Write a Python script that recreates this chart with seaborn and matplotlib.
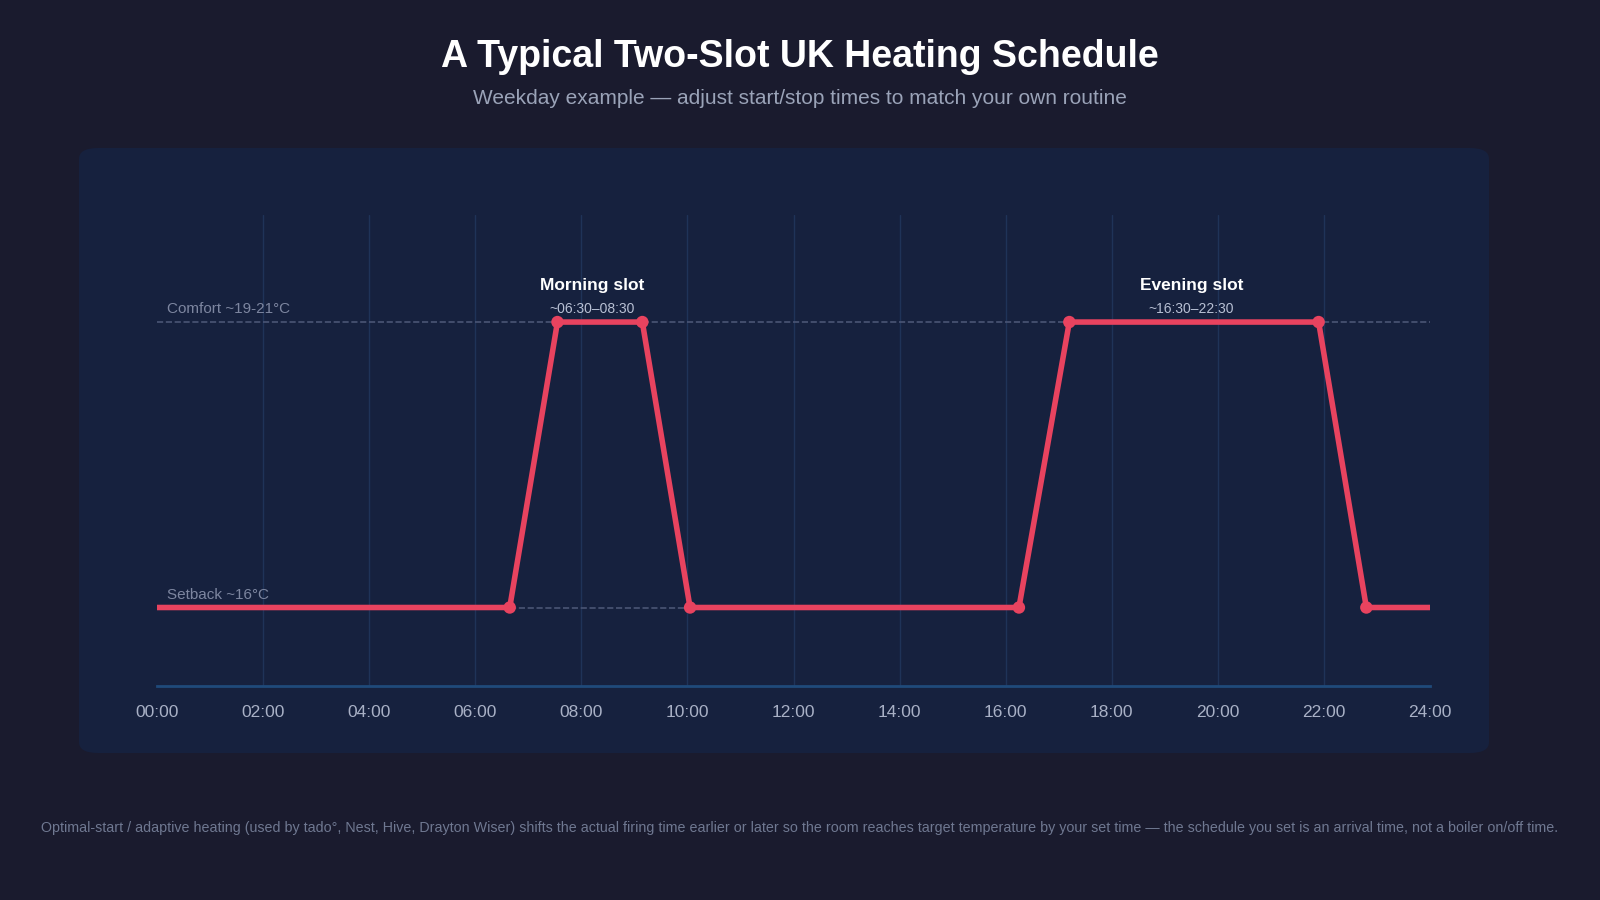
import matplotlib
matplotlib.use("Agg")
import matplotlib.pyplot as plt
from matplotlib.patches import FancyBboxPatch
import seaborn as sns
import pandas as pd

sns.set_theme(style="dark")
plt.rcParams['font.family'] = ['Liberation Sans', 'DejaVu Sans']

hours = [0, 6.65, 7.55, 9.15, 10.05, 16.25, 17.2, 21.9, 22.8, 24]
temps = [16, 16, 20, 20, 16, 16, 20, 20, 16, 16]
marker_idx = [1, 2, 3, 4, 5, 6, 7, 8]
tick_hours = list(range(0, 25, 2))
tick_labels = [f"{h:02d}:00" for h in tick_hours]
comfort, setback = 20, 16

BG = "#1a1b2e"
PANEL = "#16213e"
RED = "#e8435f"
GRID = "#1f3358"
MUTED = "#7d86a0"

fig = plt.figure(figsize=(16, 9), dpi=100, facecolor=BG)
fig.patches.append(FancyBboxPatch((79/1600, 1-753/900), 1410/1600, 605/900,
    boxstyle="round,pad=0,rounding_size=0.012", transform=fig.transFigure,
    facecolor=PANEL, edgecolor="none", zorder=-5))

ax = fig.add_axes([157/1600, 1-686/900, 1273/1600, 471/900])
ax.set_zorder(2)
ax.set_facecolor("none")
df = pd.DataFrame({"h": hours, "t": temps})
ax.axhline(comfort, color="#4a5575", ls="--", lw=1.2, zorder=1)
ax.plot([hours[1], hours[4]], [setback, setback], color="#4a5575", ls="--", lw=1.2, zorder=1)
sns.lineplot(data=df, x="h", y="t", color=RED, lw=4, ax=ax, zorder=3)
md = df.iloc[marker_idx]
sns.scatterplot(data=md, x="h", y="t", color=RED, s=80, edgecolor="none", ax=ax, zorder=4)

ax.set_xlim(0, 24)
ax.set_ylim(14.9, 21.5)
ax.set_xticks(tick_hours)
ax.set_xticklabels(tick_labels, color="#a9b1c6", fontsize=12.5)
ax.set_yticks([])
ax.set_xlabel(""); ax.set_ylabel("")
ax.tick_params(axis="x", length=0, pad=14)
for h in tick_hours[1:-1]:
    ax.axvline(h, color=GRID, lw=1, zorder=0)
for s in ["top", "right", "left"]:
    ax.spines[s].set_visible(False)
ax.spines["bottom"].set_color("#1f4a7a"); ax.spines["bottom"].set_linewidth(2)

ax.text(0.18, comfort + 0.12, "Comfort ~19-21°C", color=MUTED, fontsize=11)
ax.text(0.18, setback + 0.12, "Setback ~16°C", color=MUTED, fontsize=11)
ax.text(8.2, 20.45, "Morning slot", color="white", fontsize=12.5, fontweight="bold", ha="center")
ax.text(8.2, 20.12, "~06:30–08:30", color="#b8c0d4", fontsize=10, ha="center")
ax.text(19.5, 20.45, "Evening slot", color="white", fontsize=12.5, fontweight="bold", ha="center")
ax.text(19.5, 20.12, "~16:30–22:30", color="#b8c0d4", fontsize=10, ha="center")

fig.text(0.5, 1-57/900, "A Typical Two-Slot UK Heating Schedule", color="white",
         fontsize=27, fontweight="bold", ha="center", va="center")
fig.text(0.5, 1-99/900, "Weekday example — adjust start/stop times to match your own routine",
         color="#9aa3b8", fontsize=15, ha="center", va="center")
fig.text(0.5, 1-828/900, "Optimal-start / adaptive heating (used by tado°, Nest, Hive, Drayton Wiser) shifts the actual firing time earlier or later so the room reaches target temperature by your set time — the schedule you set is an arrival time, not a boiler on/off time.",
         color="#6f7891", fontsize=10.3, ha="center", va="center")

fig.savefig("out.png", dpi=100, facecolor=BG)
